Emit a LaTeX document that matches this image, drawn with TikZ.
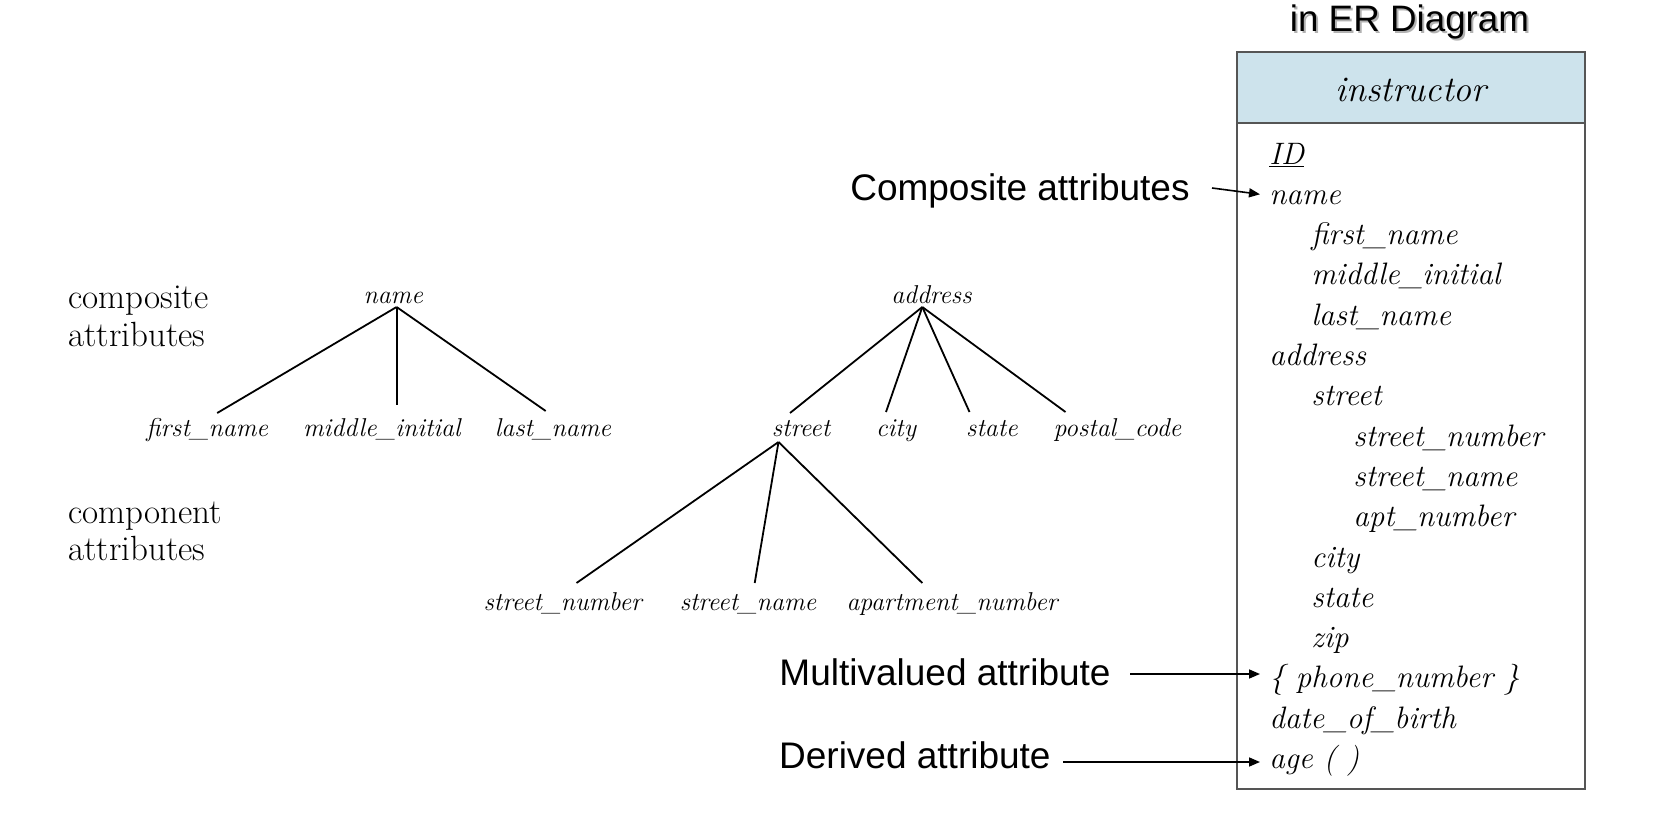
\documentclass[tikz,border=0pt]{standalone}
\usepackage{fontspec}
\newfontfamily\sansf{Liberation Sans}
\usetikzlibrary{arrows.meta,calc}
\definecolor{hdrc}{RGB}{205,227,236}
\definecolor{boxc}{RGB}{85,85,85}
\begin{document}
\begin{tikzpicture}[x=0.5pt,y=-0.5pt,
  tl/.style={font=\fontsize{12.9}{15}\selectfont\itshape, inner sep=0pt, anchor=base},
  bi/.style={font=\fontsize{15.5}{18}\selectfont\itshape, inner sep=0pt, anchor=base west},
  rl/.style={font=\fontsize{17.5}{20}\selectfont, inner sep=0pt, anchor=base west},
  sl/.style={font=\sansf\fontsize{18.5}{21}\selectfont, inner sep=0pt, anchor=base east},
  edge/.style={line width=0.9pt},
  arr/.style={line width=0.8pt,-{Triangle[length=5.5pt,width=4.5pt]}},
]
\useasboundingbox (0,0) rectangle (1668,813);

% title
\node[font=\sansf\fontsize{18.4}{22}\selectfont, inner sep=0pt, anchor=base, text=black!30] (ttlsh) at (1411.5,33.5) {in ER Diagram};
\node[font=\sansf\fontsize{18.4}{22}\selectfont, inner sep=0pt, anchor=base] (ttl) at (1409.5,32) {in ER Diagram};

% left labels
\node[rl] (c1) at (68,308) {composite};
\node[rl] (c2) at (68,346) {attributes};
\node[rl] (p1) at (68,523) {component};
\node[rl] (p2) at (68,560) {attributes};

% name tree
\node[tl] (nm) at (393.3,303) {name};
\node[tl] (fn) at (207.2,436) {first\_name};
\node[tl] (mi) at (381.8,436) {middle\_initial};
\node[tl] (ln) at (553,436) {last\_name};
\draw[edge] ($(nm.base)+(3.3,4)$) -- ($(fn.base)+(10,-23)$);
\draw[edge] ($(nm.base)+(3.3,4)$) -- ($(mi.base)+(14.8,-31)$);
\draw[edge] ($(nm.base)+(3.3,4)$) -- ($(ln.base)+(-7.3,-25)$);

% address tree
\node[tl] (ad) at (931.4,303) {address};
\node[tl] (st) at (801,436) {street};
\node[tl] (ct) at (896,436) {city};
\node[tl] (sa) at (992,436) {state};
\node[tl] (pc) at (1117.4,436) {postal\_code};
\node[tl] (sn) at (562.7,610) {street\_number};
\node[tl] (sm) at (748,610) {street\_name};
\node[tl] (an) at (952,610) {apartment\_number};
\draw[edge] ($(ad.base)+(-9.1,4)$) -- ($(st.base)+(-11,-23)$);
\draw[edge] ($(ad.base)+(-9.1,4)$) -- ($(ct.base)+(-10,-24)$);
\draw[edge] ($(ad.base)+(-9.1,4)$) -- ($(sa.base)+(-22.5,-24)$);
\draw[edge] ($(ad.base)+(-9.1,4)$) -- ($(pc.base)+(-51.9,-24)$);
\draw[edge] ($(st.base)+(-22.5,6)$) -- ($(sn.base)+(13.8,-27)$);
\draw[edge] ($(st.base)+(-22.5,6)$) -- ($(sm.base)+(6.7,-27)$);
\draw[edge] ($(st.base)+(-22.5,6)$) -- ($(an.base)+(-29.7,-27)$);

% entity box
\node[draw=boxc, fill=hdrc, line width=1pt, minimum width=174pt, minimum height=35.5pt, inner sep=0pt] (hdr) at (1411,87.5) {};
\node[font=\fontsize{18}{21}\selectfont\itshape, inner sep=0pt, anchor=base] (hdrt) at (1411,102) {instructor};
\node[draw=boxc, line width=1pt, minimum width=174pt, minimum height=333pt, inner sep=0pt] (body) at (1411,456) {};

\node[bi] (bID) at (1269,164) {\underline{ID}};
\node[bi] (bnm) at (1269,204.3) {name};
\node[bi] (bfn) at (1311,244.6) {first\_name};
\node[bi] (bmi) at (1311,284.9) {middle\_initial};
\node[bi] (bln) at (1311,325.2) {last\_name};
\node[bi] (bad) at (1269,365.5) {address};
\node[bi] (bst) at (1311,405.8) {street};
\node[bi] (bsn) at (1353,446.1) {street\_number};
\node[bi] (bsm) at (1353,486.4) {street\_name};
\node[bi] (bap) at (1353,526.7) {apt\_number};
\node[bi] (bct) at (1311,567) {city};
\node[bi] (bsa) at (1311,607.3) {state};
\node[bi] (bzp) at (1311,647.6) {zip};
\node[bi] (bph) at (1269,687.9) {\{ phone\_number \}};
\node[bi] (bdb) at (1269,728.2) {date\_of\_birth};
\node[bi] (bag) at (1269,768.5) {age ( )};

% annotations
\node[sl] (comp) at (1190,200) {Composite attributes};
\node[sl] (mv) at (1111,685) {Multivalued attribute};
\node[sl] (der) at (1051,768) {Derived attribute};
\draw[arr] ($(comp.base east)+(22,-12)$) -- ($(bnm.base west)+(-9,-10)$);
\draw[arr] ($(mv.base east)+(19,-11)$) -- ($(mv.base east -| bph.west)+(-9,-11)$);
\draw[arr] ($(der.base east)+(12,-6)$) -- ($(der.base east -| bag.west)+(-9,-6)$);
\end{tikzpicture}
\end{document}
